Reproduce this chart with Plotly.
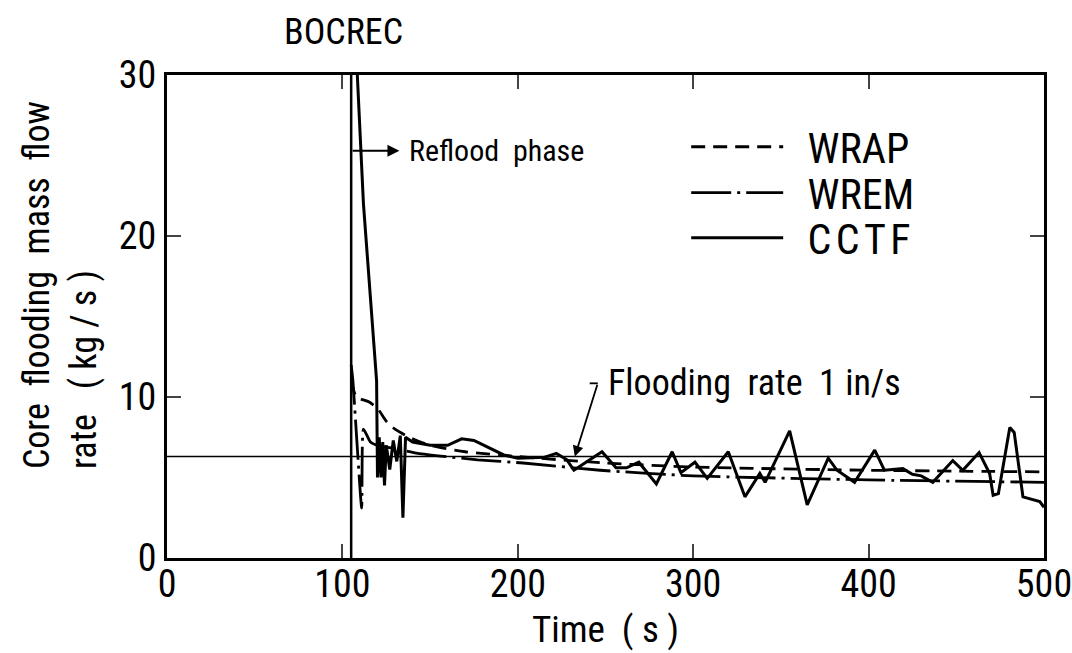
import plotly.graph_objects as go

# ---------------- data ----------------
cctf_t = [105, 108.5, 112, 114, 116.8, 119.5, 120, 121, 122, 123, 124, 125, 127, 129, 131, 133, 134.5, 136,
          140, 150, 160, 168, 175, 185, 192, 200, 215, 222, 228, 232, 240, 248, 256, 262, 269, 279, 288, 293,
          301, 308, 320, 329.5, 338, 341, 355, 365, 377, 382, 392, 403.5, 409, 419.5, 425, 430, 436.6, 448,
          453.7, 463, 469, 471, 474, 480.5, 483, 488, 497.6, 500]
cctf_v = [36, 30, 22, 19, 15, 11, 5, 7.5, 5, 7.2, 4.5, 7, 5.5, 7.3, 6, 7.6, 2.5, 7.5,
          7.2, 7.0, 7.0, 7.4, 7.3, 6.8, 6.4, 6.2, 6.25, 6.5, 6.1, 5.45, 6.0, 6.6, 5.6, 5.6, 5.95, 4.6, 6.6, 5.3,
          5.95, 4.95, 6.6, 3.8, 5.25, 4.7, 7.9, 3.3, 6.2, 5.45, 4.7, 6.7, 5.45, 5.55, 5.2, 5.1, 4.7, 6.05,
          5.45, 6.55, 5.25, 3.9, 4.0, 8.1, 7.8, 3.8, 3.5, 3.15]

wrap_t = [105, 108, 115, 120, 125, 130, 140, 150, 170, 200, 250, 300, 400, 500]
wrap_v = [11.0, 10.0, 9.7, 9.3, 8.5, 8.0, 7.4, 7.0, 6.6, 6.3, 5.9, 5.65, 5.45, 5.35]

wrem_t = [105, 106, 111, 112, 116, 120, 130, 143, 177, 203, 247, 300, 400, 500]
wrem_v = [12.0, 11.0, 3.1, 8.0, 7.2, 7.0, 6.8, 6.5, 6.1, 5.9, 5.45, 5.1, 4.85, 4.7]

ref_t = [0, 500]          # flooding rate 1 in/s
ref_v = [6.3, 6.3]
bocrec_t = 105

x_ticks = [0, 100, 200, 300, 400, 500]
y_ticks = [0, 10, 20, 30]

FONT = "Liberation Sans Narrow, Arial Narrow, Roboto Condensed, Liberation Sans, sans-serif"

fig = go.Figure()

fig.add_trace(go.Scatter(x=ref_t, y=ref_v, mode="lines", line=dict(color="black", width=1.5),
                         showlegend=False, hoverinfo="skip"))
fig.add_trace(go.Scatter(x=wrap_t, y=wrap_v, mode="lines", name="  WRAP", legend="legend",
                         line=dict(color="black", width=2.8, dash="14px,8px", shape="spline", smoothing=0.6)))
fig.add_trace(go.Scatter(x=wrem_t, y=wrem_v, mode="lines", name="  WREM", legend="legend2",
                         line=dict(color="black", width=2.8, dash="40px,6px,3px,6px", shape="spline", smoothing=0.5)))
fig.add_trace(go.Scatter(x=cctf_t, y=cctf_v, mode="lines", name="  C\u200aC\u200aT\u200aF", legend="legend3",
                         line=dict(color="black", width=3)))

# BOCREC vertical line
fig.add_shape(type="line", x0=bocrec_t, x1=bocrec_t, y0=0, y1=30, xref="x", yref="y",
              line=dict(color="black", width=2.5))

fig.add_annotation(x=bocrec_t, y=1.0, xref="x", yref="paper", text="BOCREC", showarrow=False,
                   yanchor="bottom", yshift=20, xshift=-8, font=dict(size=36, family=FONT, color="black"))

# Reflood phase
fig.add_annotation(x=132.5, y=25.3, ax=bocrec_t, ay=25.3, xref="x", yref="y", axref="x", ayref="y",
                   text="", showarrow=True, arrowhead=2, arrowsize=1.2, arrowwidth=2, arrowcolor="black")
fig.add_annotation(x=137, y=25.3, xref="x", yref="y", text="Reflood  phase", showarrow=False,
                   xanchor="left", font=dict(size=30, family=FONT, color="black"))

# Flooding rate
fig.add_annotation(x=232.5, y=6.3, ax=245.6, ay=10.85, xref="x", yref="y", axref="x", ayref="y",
                   text="", showarrow=True, arrowhead=2, arrowsize=1.2, arrowwidth=1.8, arrowcolor="black")
fig.add_shape(type="line", x0=241, x1=245.6, y0=10.85, y1=10.85, xref="x", yref="y",
              line=dict(color="black", width=1.8))
fig.add_annotation(x=250, y=10.9, xref="x", yref="y", text="Flooding  rate  1 in/s", showarrow=False,
                   xanchor="left", font=dict(size=36, family=FONT, color="black"))

# y-axis title (two lines, left-aligned as in the original)
fig.add_annotation(x=-0.122, y=0.565, xref="paper", yref="paper", textangle=-90, align="left",
                   text="Core  flooding  mass  flow<br>rate   ( kg / s )", showarrow=False,
                   xanchor="center", yanchor="middle", font=dict(size=36, family=FONT, color="black"))

leg_common = dict(xanchor="left", yanchor="middle", bgcolor="rgba(0,0,0,0)",
                  font=dict(size=42, family=FONT, color="black"), itemwidth=92)

fig.update_layout(
    width=1072, height=653,
    margin=dict(l=167, r=28, t=75, b=95, autoexpand=False),
    paper_bgcolor="white", plot_bgcolor="white",
    font=dict(family=FONT, color="black", size=34),
    legend=dict(x=0.592, y=0.851, **leg_common),
    legend2=dict(x=0.592, y=0.756, **leg_common),
    legend3=dict(x=0.592, y=0.6625, **leg_common),
)
fig.update_xaxes(range=[0, 500], tickvals=x_ticks, ticks="inside", ticklen=14, tickwidth=2,
                 showline=True, linewidth=3, linecolor="black", mirror="ticks", showgrid=False,
                 zeroline=False, tickfont=dict(size=38), automargin=False, ticklabeloverflow="allow",
                 ticklabelstandoff=-10,
                 title=dict(text="Time  ( s )", font=dict(size=37), standoff=12))
fig.update_yaxes(range=[0, 30], tickvals=y_ticks, ticks="inside", ticklen=14, tickwidth=2,
                 showline=True, linewidth=3, linecolor="black", mirror="ticks", showgrid=False,
                 zeroline=False, tickfont=dict(size=38), automargin=False, ticklabeloverflow="allow")

fig.write_html("out.html")
